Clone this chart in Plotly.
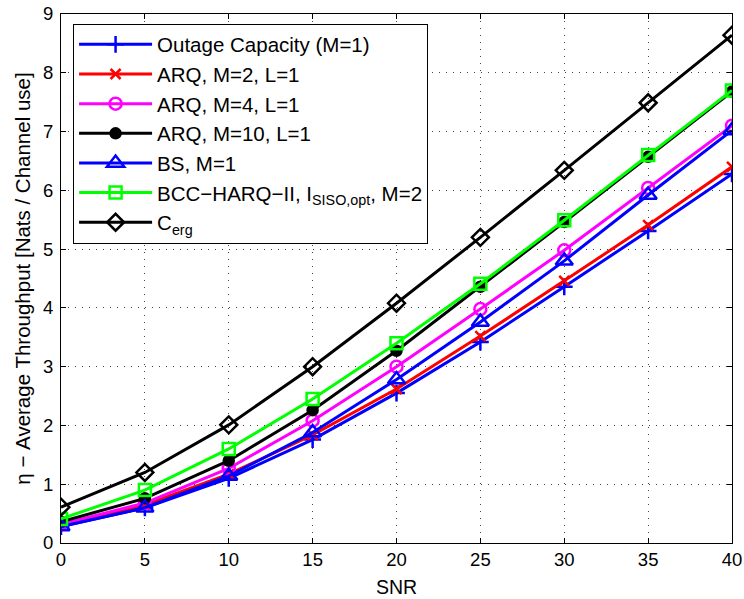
import plotly.graph_objects as go

snr = [0, 5, 10, 15, 20, 25, 30, 35, 40]
outage = [0.28, 0.60, 1.10, 1.76, 2.55, 3.42, 4.36, 5.31, 6.28]
arq2 = [0.30, 0.65, 1.17, 1.84, 2.62, 3.52, 4.46, 5.41, 6.40]
arq4 = [0.32, 0.68, 1.27, 2.08, 3.00, 3.98, 4.98, 6.04, 7.10]
arq10 = [0.36, 0.76, 1.40, 2.26, 3.27, 4.36, 5.46, 6.57, 7.68]
bs = [0.28, 0.60, 1.14, 1.88, 2.78, 3.76, 4.80, 5.92, 7.02]
bcc = [0.41, 0.90, 1.60, 2.45, 3.40, 4.41, 5.49, 6.60, 7.70]
cerg = [0.61, 1.20, 2.01, 3.00, 4.08, 5.20, 6.34, 7.49, 8.64]

names = ["Outage Capacity (M=1)", "ARQ, M=2, L=1", "ARQ, M=4, L=1", "ARQ, M=10, L=1",
         "BS, M=1", "BCC\u2212HARQ\u2212II, I<sub>SISO,opt</sub>, M=2", "C<sub>erg</sub>"]
series = [outage, arq2, arq4, arq10, bs, bcc, cerg]
colors = ["#0000ff", "#ff0000", "#ff00ff", "#000000", "#0000ff", "#00ff00", "#000000"]
symbols = ["cross-thin", "x-thin", "circle-open", "circle", "triangle-up-open", "square-open", "diamond-open"]
sizes = [12, 10, 12, 10, 15, 12, 13]

FONT = "Liberation Sans"

fig = go.Figure()
for n, y, c, s, sz in zip(names, series, colors, symbols, sizes):
    fig.add_trace(go.Scatter(
        x=snr, y=y, name=n, mode="lines+markers",
        line=dict(color=c, width=3),
        marker=dict(symbol=s, size=sz, color=c, line=dict(color=c, width=2.5)),
    ))

axis_common = dict(
    showline=True, linecolor="black", linewidth=1, mirror="ticks",
    ticks="inside", ticklen=5, tickcolor="black",
    showgrid=True, gridcolor="#444444", gridwidth=1, griddash="1px,6px",
    zeroline=False, automargin=False,
    tickfont=dict(family=FONT, size=18.5, color="black"),
)

fig.update_xaxes(range=[0, 40], tickvals=list(range(0, 41, 5)),
                 title=dict(text="SNR", font=dict(family=FONT, size=19.5, color="black"), standoff=11),
                 **axis_common)
fig.update_yaxes(range=[0, 9], tickvals=list(range(0, 10)), ticklabelstandoff=3,
                 title=dict(text="\u03b7 \u2212 Average Throughput [Nats / Channel use]",
                            font=dict(family=FONT, size=20.5, color="black"), standoff=6),
                 **axis_common)

fig.update_layout(
    width=744, height=599,
    margin=dict(l=61, r=12, t=14, b=56),
    plot_bgcolor="white", paper_bgcolor="white",
    font=dict(family=FONT, color="black", size=18),
    legend=dict(x=0.018, y=0.982, xanchor="left", yanchor="top",
                bgcolor="white", bordercolor="black", borderwidth=1,
                font=dict(family=FONT, size=20.5, color="black"), itemwidth=73,
                tracegroupgap=0),
    showlegend=True,
)

# remove the default 8px page margin so the 744x599 figure fills the window
fig.write_html("out.html", config={"displayModeBar": False},
               post_script="document.body.style.margin='0';")
